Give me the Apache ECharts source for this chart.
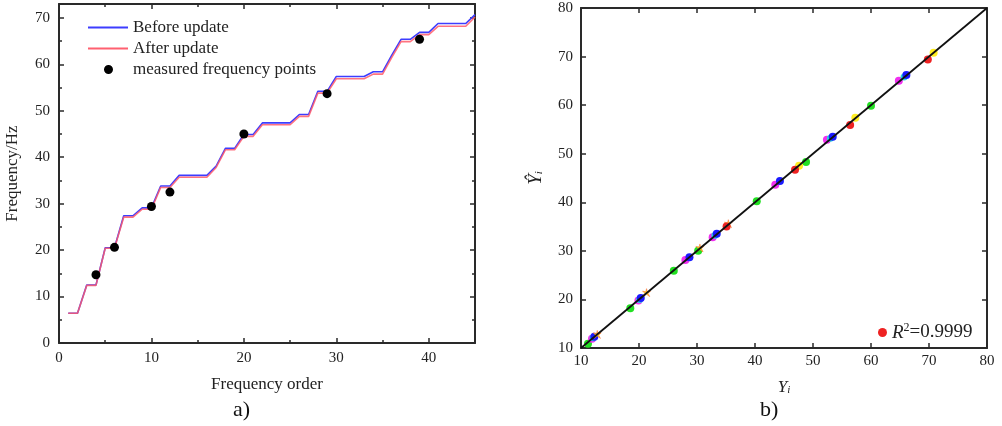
<!DOCTYPE html>
<html>
<head>
<meta charset="utf-8">
<script src="https://cdn.jsdelivr.net/npm/echarts@6/dist/echarts.min.js"></script>
<style>
  html, body { margin: 0; padding: 0; background: #fff; }
  #chart { width: 1002px; height: 426px; }
</style>
</head>
<body>
<div id="chart"></div>
<script>
// frequency order 1..45
var orders = [];
for (var i = 1; i <= 45; i++) orders.push(i);

var beforeUpdate = [6.4, 6.4, 12.5, 12.5, 20.5, 20.5, 27.4, 27.4, 29.1, 29.1,
  33.8, 33.8, 36.1, 36.1, 36.1, 36.1, 38.1, 41.9, 41.9, 44.9,
  44.9, 47.4, 47.4, 47.4, 47.4, 49.2, 49.2, 54.2, 54.2, 57.4,
  57.4, 57.4, 57.4, 58.4, 58.4, 62.0, 65.4, 65.4, 66.9, 66.9,
  68.8, 68.8, 68.8, 68.8, 70.7];
var afterUpdate = [6.4, 6.4, 12.4, 12.4, 20.4, 20.4, 27.1, 27.1, 28.8, 28.8,
  33.5, 33.5, 35.7, 35.7, 35.7, 35.7, 37.8, 41.6, 41.6, 44.5,
  44.5, 47.0, 47.0, 47.0, 47.0, 48.8, 48.8, 53.8, 53.8, 56.9,
  56.9, 56.9, 56.9, 57.9, 57.9, 61.5, 64.9, 64.9, 66.4, 66.4,
  68.2, 68.2, 68.2, 68.2, 70.2];
var measuredOrder = [4, 6, 10, 12, 20, 29, 39];
var measuredFreq = [14.7, 20.6, 29.4, 32.5, 45.0, 53.7, 65.4];

// right plot: measured Y_i vs predicted Y^_i
var greenPts = [[11.2, 10.9], [18.5, 18.2], [26.0, 25.9], [30.2, 30.0], [40.3, 40.2], [48.8, 48.3], [60.0, 59.9]];
var magentaPts = [[11.9, 11.9], [19.9, 19.8], [28.0, 28.1], [32.7, 32.8], [43.5, 43.6], [52.4, 52.9], [64.8, 65.0]];
var cyanPts = [[12.1, 12.1], [20.1, 20.0], [33.1, 33.2], [53.0, 53.2], [65.7, 65.8]];
var bluePts = [[12.3, 12.3], [20.3, 20.3], [28.7, 28.7], [33.4, 33.5], [44.3, 44.4], [53.4, 53.5], [66.1, 66.2]];
var redPts = [[35.1, 35.0], [46.9, 46.7], [56.4, 55.9], [69.8, 69.4]];
var yellowPts = [[47.6, 47.5], [57.3, 57.4], [70.8, 70.8]];
var starPts = [[12.8, 12.8], [21.3, 21.4], [30.5, 30.6], [35.4, 35.6]];
var fitLine = [[10, 10], [80, 80]];

function pairs(xs, ys) {
  return xs.map(function (x, k) { return [x, ys[k]]; });
}

var FONT = '"Liberation Serif", "Times New Roman", serif';
var AX = '#2a2a2a';
// legend icons padded to the full 40x16 box so they keep their shape
var PAD = 'M0,0L0.05,0L0.05,0.05Z M40,16L39.95,16L39.95,15.95Z ';
var LINE_ICON = 'path://' + PAD + 'M0,7L40,7L40,9L0,9Z';
var DOT_ICON = 'path://' + PAD + 'M16,8a4.5,4.5 0 1,0 9,0a4.5,4.5 0 1,0 -9,0Z';

function frameAxis(base) {
  return Object.assign({
    axisLine: { show: true, onZero: false, lineStyle: { color: AX, width: 2 } },
    axisTick: { show: true, inside: true, length: 5, lineStyle: { color: AX, width: 1.5 } },
    splitLine: { show: false },
    axisLabel: { color: '#222', fontFamily: FONT, fontSize: 15 }
  }, base);
}

var chart = echarts.init(document.getElementById('chart'));
chart.setOption({
  backgroundColor: '#fff',
  animation: false,
  textStyle: { fontFamily: FONT },
  grid: [
    { left: 59, top: 4, width: 416, height: 339 },
    { left: 581, top: 8, width: 406, height: 340 }
  ],
  legend: [
    {
      left: 83, top: 14, orient: 'vertical', itemGap: 4,
      itemWidth: 40, itemHeight: 16,
      textStyle: { fontFamily: FONT, fontSize: 17, color: '#222' },
      data: [
        { name: 'Before update', icon: LINE_ICON },
        { name: 'After update', icon: LINE_ICON },
        { name: 'measured frequency points', icon: DOT_ICON }
      ]
    },
    {
      left: 873, top: 317, itemWidth: 9, itemHeight: 9, itemGap: 4,
      data: [{ name: 'R2', icon: 'circle' }],
      formatter: function () { return '{r|R}{s|2}{v|=0.9999}'; },
      textStyle: {
        fontFamily: FONT, fontSize: 19, color: '#222',
        rich: {
          r: { fontFamily: FONT, fontSize: 19, fontStyle: 'italic', color: '#222' },
          s: { fontFamily: FONT, fontSize: 12, color: '#222', verticalAlign: 'top', padding: [0, 0, 9, 0] },
          v: { fontFamily: FONT, fontSize: 19, color: '#222' }
        }
      }
    }
  ],
  xAxis: [
    frameAxis({
      gridIndex: 0, type: 'value', min: 0, max: 45, interval: 10,
      minorTick: { show: true, splitNumber: 2, length: 3, lineStyle: { color: AX, width: 1.5 } },
      axisLabel: { color: '#222', fontFamily: FONT, fontSize: 15, showMaxLabel: false, margin: 8 },
      name: 'Frequency order', nameLocation: 'middle', nameGap: 33,
      nameTextStyle: { fontFamily: FONT, fontSize: 17, color: '#222' }
    }),
    frameAxis({
      gridIndex: 0, type: 'value', position: 'top', min: 0, max: 45, interval: 10,
      minorTick: { show: true, splitNumber: 2, length: 3, lineStyle: { color: AX, width: 1.5 } },
      axisLabel: { show: false }
    }),
    frameAxis({
      gridIndex: 1, type: 'value', min: 10, max: 80, interval: 10,
      axisLabel: { color: '#222', fontFamily: FONT, fontSize: 15, margin: 6 },
      name: '{y|Y}{i|i}', nameLocation: 'middle', nameGap: 31,
      nameTextStyle: {
        color: '#222',
        rich: {
          y: { fontFamily: FONT, fontSize: 17, fontStyle: 'italic', color: '#222' },
          i: { fontFamily: FONT, fontSize: 11, fontStyle: 'italic', color: '#222', verticalAlign: 'bottom', padding: [6, 0, 0, 0] }
        }
      }
    }),
    frameAxis({
      gridIndex: 1, type: 'value', position: 'top', min: 10, max: 80, interval: 10,
      axisLabel: { show: false }
    })
  ],
  yAxis: [
    frameAxis({
      gridIndex: 0, type: 'value', min: 0, max: 73, interval: 10,
      minorTick: { show: true, splitNumber: 2, length: 3, lineStyle: { color: AX, width: 1.5 } },
      axisLabel: { color: '#222', fontFamily: FONT, fontSize: 15, showMaxLabel: false, margin: 9 },
      name: 'Frequency/Hz', nameLocation: 'middle', nameGap: 38, nameRotate: 90,
      nameTextStyle: { fontFamily: FONT, fontSize: 17, color: '#222' }
    }),
    frameAxis({
      gridIndex: 0, type: 'value', position: 'right', min: 0, max: 73, interval: 10,
      minorTick: { show: true, splitNumber: 2, length: 3, lineStyle: { color: AX, width: 1.5 } },
      axisLabel: { show: false }
    }),
    frameAxis({
      gridIndex: 1, type: 'value', min: 10, max: 80, interval: 10,
      axisLabel: { color: '#222', fontFamily: FONT, fontSize: 15, margin: 8 },
      name: '{y|Ŷ}{i|i}', nameLocation: 'middle', nameGap: 36, nameRotate: 90,
      nameTextStyle: {
        color: '#222',
        rich: {
          y: { fontFamily: FONT, fontSize: 19, fontStyle: 'italic', color: '#222' },
          i: { fontFamily: FONT, fontSize: 11, fontStyle: 'italic', color: '#222', verticalAlign: 'bottom', padding: [6, 0, 0, 0] }
        }
      }
    }),
    frameAxis({
      gridIndex: 1, type: 'value', position: 'right', min: 10, max: 80, interval: 10,
      axisLabel: { show: false }
    })
  ],
  graphic: [
    { type: 'text', left: 233, top: 399, style: { text: 'a)', font: '22px ' + FONT, fill: '#111' } },
    { type: 'text', left: 760, top: 399, style: { text: 'b)', font: '22px ' + FONT, fill: '#111' } }
  ],
  series: [
    {
      name: 'Before update', type: 'line', xAxisIndex: 0, yAxisIndex: 0,
      symbol: 'none', color: '#3d3dff',
      lineStyle: { color: '#3d3dff', width: 1.6 },
      data: pairs(orders, beforeUpdate), z: 2
    },
    {
      name: 'After update', type: 'line', xAxisIndex: 0, yAxisIndex: 0,
      symbol: 'none', color: '#ff6070',
      lineStyle: { color: '#ff5a6a', width: 1.6, opacity: 0.85 },
      data: pairs(orders, afterUpdate), z: 3
    },
    {
      name: 'measured frequency points', type: 'scatter', xAxisIndex: 0, yAxisIndex: 0,
      symbol: 'circle', symbolSize: 9, color: '#000',
      itemStyle: { color: '#000', opacity: 1 },
      data: pairs(measuredOrder, measuredFreq), z: 4
    },
    {
      name: 'fit', type: 'line', xAxisIndex: 2, yAxisIndex: 2,
      symbol: 'none', lineStyle: { color: '#111', width: 1.8 },
      data: fitLine, z: 5
    },
    {
      name: 'green', type: 'scatter', xAxisIndex: 2, yAxisIndex: 2,
      symbolSize: 8, itemStyle: { color: '#22e022', opacity: 1 }, data: greenPts, z: 3
    },
    {
      name: 'magenta', type: 'scatter', xAxisIndex: 2, yAxisIndex: 2,
      symbolSize: 8, itemStyle: { color: '#f030f0', opacity: 1 }, data: magentaPts, z: 3
    },
    {
      name: 'cyan', type: 'scatter', xAxisIndex: 2, yAxisIndex: 2,
      symbolSize: 7, itemStyle: { color: '#22dddd', opacity: 1 }, data: cyanPts, z: 3
    },
    {
      name: 'blue', type: 'scatter', xAxisIndex: 2, yAxisIndex: 2,
      symbolSize: 8, itemStyle: { color: '#1a1aff', opacity: 1 }, data: bluePts, z: 4
    },
    {
      name: 'yellow', type: 'scatter', xAxisIndex: 2, yAxisIndex: 2,
      symbolSize: 8, itemStyle: { color: '#ffee22', opacity: 1 }, data: yellowPts, z: 3
    },
    {
      name: 'star', type: 'scatter', xAxisIndex: 2, yAxisIndex: 2,
      symbol: 'path://M5,0L6,4L10,3L7,6L9,10L5,7L1,10L3,6L0,3L4,4Z', symbolSize: 8,
      itemStyle: { color: '#ffdd22', borderColor: '#ff6633', borderWidth: 0.5, opacity: 1 },
      data: starPts, z: 4
    },
    {
      name: 'R2', type: 'scatter', xAxisIndex: 2, yAxisIndex: 2,
      symbolSize: 8, itemStyle: { color: '#ee2222', opacity: 1 }, data: redPts, z: 4
    }
  ]
});
</script>
</body>
</html>
